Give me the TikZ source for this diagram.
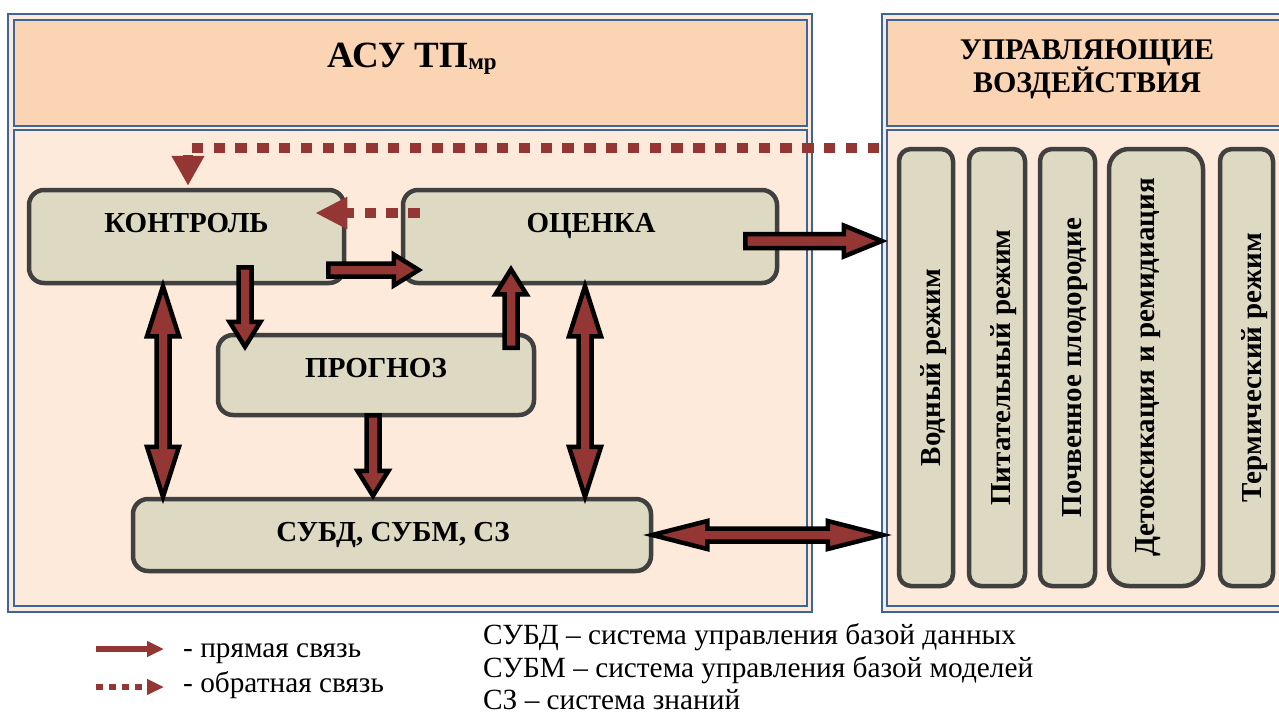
\documentclass[tikz,border=0pt]{standalone}
\usepackage{fontspec}
\setmainfont{Liberation Serif}
\usetikzlibrary{calc,arrows.meta}

\definecolor{panelblue}{HTML}{3B659B}
\definecolor{headfill}{HTML}{FBD4B4}
\definecolor{bodyfill}{HTML}{FDEADA}
\definecolor{boxfill}{HTML}{DDD9C3}
\definecolor{boxline}{HTML}{404040}
\definecolor{linkred}{HTML}{943634}

\tikzset{
  blk shaft/.store in=\blkShaft,
  blk wide/.store in=\blkWide,
  blk head/.store in=\blkHead,
  blk shaft=6.5pt, blk wide=15.5pt, blk head=25pt,
  % outlined block arrow with one head
  single block/.style={to path={
    let \p1=(\tikztostart), \p2=(\tikztotarget),
        \p3=($(\p2)!\blkHead!(\p1)$) in
    ($(\p1)!\blkShaft!90:(\p2)$) -- ($(\p3)!\blkShaft!90:(\p2)$)
    -- ($(\p3)!\blkWide!90:(\p2)$) -- (\p2)
    -- ($(\p3)!\blkWide!-90:(\p2)$) -- ($(\p3)!\blkShaft!-90:(\p2)$)
    -- ($(\p1)!\blkShaft!-90:(\p2)$) -- cycle}},
  % outlined block arrow with heads at both ends
  double block/.style={to path={
    let \p1=(\tikztostart), \p2=(\tikztotarget),
        \p3=($(\p1)!\blkHead!(\p2)$), \p4=($(\p2)!\blkHead!(\p1)$) in
    (\p1) -- ($(\p3)!\blkWide!90:(\p2)$) -- ($(\p3)!\blkShaft!90:(\p2)$)
    -- ($(\p4)!\blkShaft!90:(\p2)$) -- ($(\p4)!\blkWide!90:(\p2)$) -- (\p2)
    -- ($(\p4)!\blkWide!-90:(\p2)$) -- ($(\p4)!\blkShaft!-90:(\p2)$)
    -- ($(\p3)!\blkShaft!-90:(\p2)$) -- ($(\p3)!\blkWide!-90:(\p2)$) -- cycle}},
  blockarrow/.style={draw=black, line width=4.5pt, fill=linkred, line join=miter},
  panelframe/.style={draw=panelblue, line width=2pt, inner sep=0pt},
  mbox/.style={draw=boxline, line width=4.5pt, fill=boxfill, rounded corners=15pt, inner sep=0pt},
  vbox/.style={mbox, rounded corners=12pt, minimum height=437pt},
  boxtext/.style={font=\fontsize{29}{32}\selectfont\bfseries, inner sep=0pt, text height=19pt, text depth=0pt},
  headtext/.style={font=\fontsize{30}{33}\selectfont\bfseries, inner sep=0pt, text height=20pt, text depth=0pt},
  legendtext/.style={font=\fontsize{29.3}{33}\selectfont, inner sep=0pt, anchor=base west},
  feedback/.style={draw=linkred, line width=10.5pt, dash pattern=on 11.5pt off 10.3pt,
    -{Triangle[length=30pt,width=31pt]}},
}

\begin{document}
\begin{tikzpicture}[x=1pt,y=-1pt]
\useasboundingbox (0,0) rectangle (1279,713);
\clip (0,0) rectangle (1279,713);

% left panel: control system
\node[panelframe, fill=bodyfill, minimum width=804pt, minimum height=598pt] (lpanel) at (410,313) {};
\node[panelframe, line width=2.5pt, fill=headfill, minimum width=793pt, minimum height=106pt] (lhead) at (410.5,73) {};
\node[panelframe, minimum width=793pt, minimum height=476pt] (lbody) at (410.5,368) {};
\node[font=\fontsize{37}{40}\selectfont\bfseries, inner sep=0pt, text height=25pt, text depth=0pt]
  (ltitle) at (412,55) {АСУ ТП\raisebox{-2pt}{\fontsize{23}{23}\selectfont мр}};

% right panel: control actions
\node[panelframe, fill=bodyfill, minimum width=418pt, minimum height=598pt] (rpanel) at (1091,313) {};
\node[panelframe, line width=2.5pt, fill=headfill, minimum width=408pt, minimum height=106pt] (rhead) at (1091,73) {};
\node[panelframe, minimum width=408pt, minimum height=476pt] (rbody) at (1091,368) {};
\node[headtext] (rtitle1) at (1087,49) {УПРАВЛЯЮЩИЕ};
\node[headtext] (rtitle2) at (1087,82) {ВОЗДЕЙСТВИЯ};

% functional blocks
\node[mbox, minimum width=315pt, minimum height=93pt] (kontrol) at (186.5,236.5) {};
\node[boxtext] at ($(kontrol.center)+(0,-13.5)$) {КОНТРОЛЬ};
\node[mbox, minimum width=374pt, minimum height=93pt] (ocenka) at (590,236.5) {};
\node[boxtext] at ($(ocenka.center)+(1,-13.5)$) {ОЦЕНКА};
\node[mbox, minimum width=316pt, minimum height=80pt] (prognoz) at (376,375) {};
\node[boxtext] at ($(prognoz.center)+(0,-7)$) {ПРОГНОЗ};
\node[mbox, minimum width=518pt, minimum height=72pt] (subd) at (392,535) {};
\node[boxtext] at ($(subd.center)+(1,-3)$) {СУБД, СУБМ, СЗ};

% control action columns
\node[vbox, minimum width=54pt] (vb1) at (926,367.5) {};
\node[vbox, minimum width=56pt] (vb2) at (997,367.5) {};
\node[vbox, minimum width=55pt] (vb3) at (1067.5,367.5) {};
\node[vbox, minimum width=94pt, rounded corners=20pt] (vb4) at (1156,367.5) {};
\node[vbox, minimum width=53pt] (vb5) at (1246.5,367.5) {};
\node[boxtext, rotate=90] at ($(vb1.center)+(5,0)$) {Водный режим};
\node[boxtext, rotate=90] at ($(vb2.center)+(4,0)$) {Питательный режим};
\node[boxtext, rotate=90] at ($(vb3.center)+(4.5,0)$) {Почвенное плодородие};
\node[boxtext, rotate=90] at ($(vb4.center)+(-11.5,0)$) {Детоксикация и ремидиация};
\node[boxtext, rotate=90] at ($(vb5.center)+(5.5,0)$) {Термический режим};

% feedback links
\coordinate (fbin) at ($(rpanel.west)+(-2,-165)$);
\draw[feedback] (fbin) -| ($(kontrol.north)+(1.5,-2)$);
\draw[feedback, -{Triangle[length=32pt,width=30pt]}]
  ($(ocenka.west)+(19,-23.5)$) -- ($(kontrol.east)+(-31,-23.5)$);

% direct links
\draw[blockarrow, single block] ($(kontrol.east)+(-18,33.5)$) to ($(ocenka.west)+(18,33.5)$);
\draw[blockarrow, single block] ($(kontrol.south)+(58.5,-18)$) to ($(prognoz.north)+(-131,14)$);
\draw[blockarrow, single block] ($(prognoz.north)+(135,15)$) to ($(ocenka.south)+(-79,-16)$);
\draw[blockarrow, single block] ($(prognoz.south)+(-3,-2)$) to ($(subd.north)+(-19,-1)$);
\draw[blockarrow, double block, blk head=50pt, blk wide=16pt] ($(kontrol.south)+(-23.5,1)$) to ($(subd.north)+(-229,0)$);
\draw[blockarrow, double block, blk head=50pt, blk wide=16pt] ($(ocenka.south)+(-5,1)$) to ($(subd.north)+(193,0)$);
\draw[blockarrow, single block, blk head=38pt, blk shaft=7pt] ($(ocenka.east)+(-34,4.5)$) to ($(vb1.west)+(-15,-126.5)$);
\draw[blockarrow, double block, blk head=55pt, blk wide=14pt] ($(subd.east)+(-1,0)$) to ($(vb1.west)+(-14,167.5)$);

% legend
\coordinate (la1) at (96,649);
\coordinate (la2) at (164,649);
\draw[linkred, line width=6pt, -{Triangle[length=17pt,width=15pt]}] (la1) -- (la2);
\coordinate (lb1) at (96,687);
\coordinate (lb2) at (164,687);
\draw[linkred, line width=6.5pt, dash pattern=on 7pt off 6pt, -{Triangle[length=17pt,width=15pt]}] (lb1) -- (lb2);
\node[legendtext] (lt1) at (183,657) {- прямая связь};
\node[legendtext] (lt2) at (183,692) {- обратная связь};
\node[legendtext] (lt3) at (483,644) {СУБД – система управления базой данных};
\node[legendtext] (lt4) at (483,677) {СУБМ – система управления базой моделей};
\node[legendtext] (lt5) at (483,709) {СЗ – система знаний};
\end{tikzpicture}
\end{document}
